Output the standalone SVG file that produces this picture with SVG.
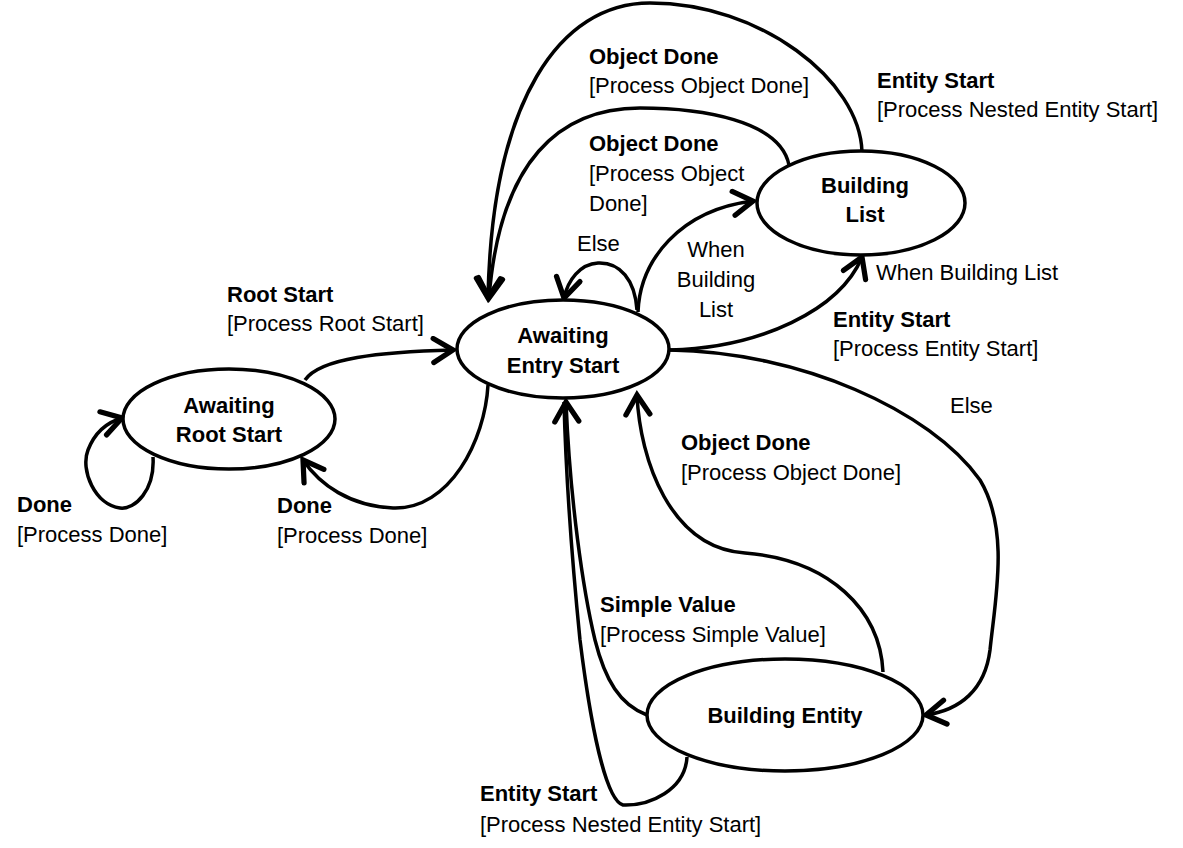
<svg xmlns="http://www.w3.org/2000/svg" width="1183" height="848" viewBox="0 0 1183 848">
<defs>
<style>
.node ellipse{fill:#fff;stroke:#000;stroke-width:3.5}
.edge{fill:none;stroke:#000;stroke-width:3.5}
text{font-family:"Liberation Sans",Arial,sans-serif;font-size:22px;fill:#000}
.b{font-weight:bold}
.c{text-anchor:middle}
</style>
<marker id="arr" markerUnits="userSpaceOnUse" markerWidth="30" markerHeight="30" refX="0" refY="0" viewBox="-16 -10 20 20" orient="auto">
<path d="M-13,-8 L0,0 L-13,8" fill="none" stroke="#000" stroke-width="3.5" stroke-linecap="round" stroke-linejoin="miter"/>
</marker>
</defs>
<rect width="1183" height="848" fill="#fff"/>
<g id="connectors">
<path class="edge" d="M305,380 C320,358 380,352 453,350" marker-end="url(#arr)"/>
<path class="edge" d="M153,457 C155,490 135,510 120,508 C95,505 80,470 88,450 C95,432 108,422 122,418" marker-end="url(#arr)"/>
<path class="edge" d="M488,385 C485,440 450,510 393,508 C350,506 320,485 303,460" marker-end="url(#arr)"/>
<path class="edge" d="M637,310 C635,280 620,262 598,263 C580,264 568,280 564,298" marker-end="url(#arr)"/>
<path class="edge" d="M638,312 C640,260 680,210 753,201" marker-end="url(#arr)"/>
<path class="edge" d="M789,165 C780,120 700,108 640,108 C560,108 500,160 489,298" marker-end="url(#arr)"/>
<path class="edge" d="M862,152 C860,80 760,3 650,3 C560,3 492,100 488,298" marker-end="url(#arr)"/>
<path class="edge" d="M670,350 C760,348 840,310 862,257" marker-end="url(#arr)"/>
<path class="edge" d="M670,350 C800,352 930,410 980,480 C1010,530 995,600 990,650 C985,690 960,710 926,715" marker-end="url(#arr)"/>
<path class="edge" d="M883,672 C880,610 830,560 745,553 C670,548 640,460 637,395" marker-end="url(#arr)"/>
<path class="edge" d="M647,715 C620,705 605,680 595,640 C583,590 570,500 566,402" marker-end="url(#arr)"/>
<path class="edge" d="M687,757 C685,790 650,806 623,805 C605,800 590,720 580,640 C572,560 566,480 564,402"/>
</g>
<g id="awaiting-root-start" class="node">
<ellipse cx="229" cy="419" rx="106" ry="50"/>
<text class="b c" x="229" y="413">Awaiting</text>
<text class="b c" x="229" y="442">Root Start</text>
</g>
<g id="awaiting-entry-start" class="node">
<ellipse cx="563" cy="349" rx="106" ry="49"/>
<text class="b c" x="563" y="343">Awaiting</text>
<text class="b c" x="563" y="373">Entry Start</text>
</g>
<g id="building-list" class="node">
<ellipse cx="861" cy="203" rx="104" ry="52"/>
<text class="b c" x="865" y="193">Building</text>
<text class="b c" x="865" y="222">List</text>
</g>
<g id="building-entity" class="node">
<ellipse cx="785" cy="715" rx="138" ry="56"/>
<text class="b c" x="785" y="723">Building Entity</text>
</g>
<g id="labels">
<text class="b" x="589" y="64">Object Done</text>
<text x="589" y="93">[Process Object Done]</text>
<text class="b" x="589" y="151">Object Done</text>
<text x="589" y="181">[Process Object</text>
<text x="589" y="211">Done]</text>
<text class="b" x="877" y="88">Entity Start</text>
<text x="877" y="117">[Process Nested Entity Start]</text>
<text x="577" y="251">Else</text>
<text class="c" x="716" y="257">When</text>
<text class="c" x="716" y="287">Building</text>
<text class="c" x="716" y="317">List</text>
<text x="876" y="280">When Building List</text>
<text class="b" x="227" y="302">Root Start</text>
<text x="227" y="331">[Process Root Start]</text>
<text class="b" x="833" y="327">Entity Start</text>
<text x="833" y="356">[Process Entity Start]</text>
<text x="950" y="413">Else</text>
<text class="b" x="681" y="450">Object Done</text>
<text x="681" y="480">[Process Object Done]</text>
<text class="b" x="17" y="512">Done</text>
<text x="17" y="542">[Process Done]</text>
<text class="b" x="277" y="513">Done</text>
<text x="277" y="543">[Process Done]</text>
<text class="b" x="600" y="612">Simple Value</text>
<text x="600" y="642">[Process Simple Value]</text>
<text class="b" x="480" y="801">Entity Start</text>
<text x="480" y="832">[Process Nested Entity Start]</text>
</g>
</svg>
